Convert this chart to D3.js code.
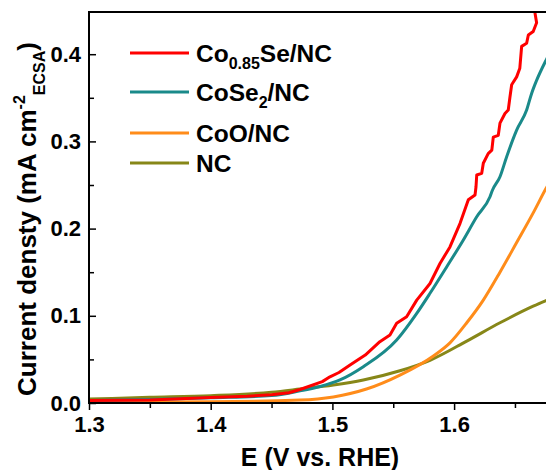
<!doctype html>
<html lang="en">
  <head>
    <meta charset="utf-8">
    <title>Current density vs E</title>
    <script src="https://d3js.org/d3.v7.min.js"></script>
    <style>
      body { margin: 0; background: #fff; }
      svg text { font-family: "Liberation Sans", Arial, sans-serif; font-weight: bold; fill: #000; }
    </style>
  </head>
  <body>
    <div id="chart"></div>
    <script>
      // series: [E (V), j (mA cm-2)]
      const co085se = [[1.30,0.003],[1.35,0.0035],[1.40,0.0062],[1.43,0.0078],[1.45,0.0095],[1.4643,0.0118],[1.4734,0.0155],
        [1.4917,0.0245],[1.498,0.030],[1.5054,0.035],[1.5145,0.0436],[1.527,0.055],[1.539,0.0703],[1.5473,0.078],
        [1.5528,0.0914],[1.561,0.099],[1.5693,0.118],[1.5802,0.137],[1.5884,0.160],[1.5966,0.179],[1.6049,0.206],
        [1.6117,0.233],[1.6172,0.2385],[1.6180,0.248],[1.6186,0.2615],[1.6227,0.2634],[1.624,0.275],[1.628,0.286],
        [1.631,0.290],[1.6322,0.305],[1.6363,0.307],[1.6377,0.321],[1.6418,0.332],[1.6445,0.336],[1.6459,0.351],
        [1.6473,0.365],[1.6514,0.374],[1.654,0.384],[1.6555,0.409],[1.6596,0.4125],[1.661,0.422],[1.665,0.426],
        [1.6678,0.436],[1.6665,0.447],[1.6665,0.46]];
      const cose2 = [[1.30,0.003],[1.35,0.004],[1.40,0.006],[1.45,0.0085],[1.4734,0.014],[1.49,0.019],[1.5062,0.0264],
        [1.5254,0.0416],[1.5528,0.0722],[1.5693,0.1028],[1.5802,0.1258],[1.594,0.1563],[1.6076,0.187],[1.6186,0.2136],
        [1.6295,0.2366],[1.6315,0.2440],[1.6377,0.2595],[1.6432,0.2825],[1.6514,0.313],[1.6596,0.336],
        [1.6637,0.355],[1.6678,0.370],[1.6755,0.393],[1.68,0.405]];
      const coo = [[1.30,0.0012],[1.40,0.0015],[1.4734,0.0034],[1.5008,0.007],[1.528,0.016],[1.5555,0.032],[1.583,0.054],
        [1.5966,0.069],[1.6104,0.092],[1.624,0.118],[1.6377,0.150],[1.6514,0.184],[1.665,0.218],[1.6755,0.246],[1.68,0.257]];
      const nc = [[1.30,0.0045],[1.35,0.0065],[1.40,0.0084],[1.45,0.0123],[1.4734,0.016],[1.5008,0.0206],[1.5254,0.0264],
        [1.5555,0.037],[1.5802,0.049],[1.6104,0.071],[1.6377,0.092],[1.665,0.111],[1.68,0.120]];

      const seriesNames = ["Co0.85Se/NC", "CoSe2/NC", "CoO/NC", "NC"];
      const seriesColors = ["#ff0000", "#1a8a8a", "#ff8c1a", "#878718"];
      const xTicks = [1.3, 1.4, 1.5, 1.6];
      const yTicks = [0.0, 0.1, 0.2, 0.3, 0.4];

      const W = 546, H = 470;
      const margin = {top: 12, left: 89, bottom: 67};
      const svg = d3.select("#chart").append("svg").attr("width", W).attr("height", H);

      const x = d3.scaleLinear().domain([1.3, 1.7]).range([margin.left, margin.left + 0.4 * 1217]);
      const y = d3.scaleLinear().domain([0, 0.4484]).range([H - margin.bottom, margin.top]);

      svg.append("clipPath").attr("id", "clip")
        .append("rect").attr("x", margin.left).attr("y", margin.top)
        .attr("width", W - margin.left).attr("height", H - margin.bottom - margin.top);

      const smooth = d3.line().x(d => x(d[0])).y(d => y(d[1])).curve(d3.curveMonotoneX);
      const straight = d3.line().x(d => x(d[0])).y(d => y(d[1]));
      const allSeries = [co085se, cose2, coo, nc];
      // draw NC first so the others sit on top like the original
      const order = [3, 2, 1, 0];
      svg.append("g").attr("clip-path", "url(#clip)")
        .selectAll("path").data(order).join("path")
          .attr("d", i => (i === 0 ? straight : smooth)(allSeries[i]))
          .attr("fill", "none")
          .attr("stroke", i => seriesColors[i])
          .attr("stroke-width", 3)
          .attr("stroke-linejoin", "round");

      // x axis, ticks outward
      svg.append("g")
        .attr("transform", `translate(0, ${y(0)})`)
        .call(d3.axisBottom(x).tickValues(xTicks).tickFormat(d3.format(".1f")).tickSize(7).tickPadding(6));
      svg.append("g")
        .attr("transform", `translate(0, ${y(0)})`)
        .call(d3.axisBottom(x).tickValues([1.35, 1.45, 1.55, 1.65]).tickFormat("").tickSize(5));

      // y axis, ticks inward
      svg.append("g")
        .attr("transform", `translate(${margin.left}, 0)`)
        .call(d3.axisLeft(y).tickValues(yTicks).tickFormat(d3.format(".1f")).tickSize(-7).tickPadding(8));
      svg.append("g")
        .attr("transform", `translate(${margin.left}, 0)`)
        .call(d3.axisLeft(y).tickValues([0.05, 0.15, 0.25, 0.35]).tickFormat("").tickSize(-5));

      svg.selectAll(".domain").remove();
      svg.selectAll(".tick line").attr("stroke", "#000").attr("stroke-width", 1.5);
      svg.selectAll(".tick text").style("font-size", "22px").attr("fill", "#000");

      // spines
      svg.append("line").attr("x1", margin.left).attr("x2", margin.left)
        .attr("y1", margin.top).attr("y2", y(0) + 1).attr("stroke", "#000").attr("stroke-width", 2);
      svg.append("line").attr("x1", margin.left - 1).attr("x2", W)
        .attr("y1", y(0)).attr("y2", y(0)).attr("stroke", "#000").attr("stroke-width", 2);
      svg.append("line").attr("x1", margin.left - 1).attr("x2", W)
        .attr("y1", margin.top).attr("y2", margin.top).attr("stroke", "#000").attr("stroke-width", 2);

      // axis titles
      svg.append("text")
        .attr("x", 320).attr("y", 466)
        .attr("text-anchor", "middle")
        .style("font-size", "25px")
        .text("E (V vs. RHE)");

      const yt = svg.append("text")
        .attr("transform", "translate(36, 219) rotate(-90)")
        .attr("text-anchor", "middle")
        .style("font-size", "26px");
      yt.append("tspan").text("Current densty (mA cm");
      yt.append("tspan").attr("dy", -11).style("font-size", "16px").text("-2");
      yt.append("tspan").attr("dy", 20).style("font-size", "16px").text("ECSA");
      yt.append("tspan").attr("dy", -9).text(")");

      // legend
      const rowY = [53, 92, 133, 163];
      const leg = svg.append("g");
      seriesNames.forEach((name, i) => {
        leg.append("line").attr("x1", 130).attr("x2", 189)
          .attr("y1", rowY[i]).attr("y2", rowY[i])
          .attr("stroke", seriesColors[i]).attr("stroke-width", 3);
        const t = leg.append("text").attr("x", 196).attr("y", rowY[i] + 8.5).style("font-size", "24.5px");
        if (i === 0) {
          t.append("tspan").text("Co");
          t.append("tspan").attr("dy", 7).style("font-size", "16px").text("0.85");
          t.append("tspan").attr("dy", -7).text("Se/NC");
        } else if (i === 1) {
          t.append("tspan").text("CoSe");
          t.append("tspan").attr("dy", 7).style("font-size", "16px").text("2");
          t.append("tspan").attr("dy", -7).text("/NC");
        } else {
          t.text(name);
        }
      });
    </script>
  </body>
</html>
